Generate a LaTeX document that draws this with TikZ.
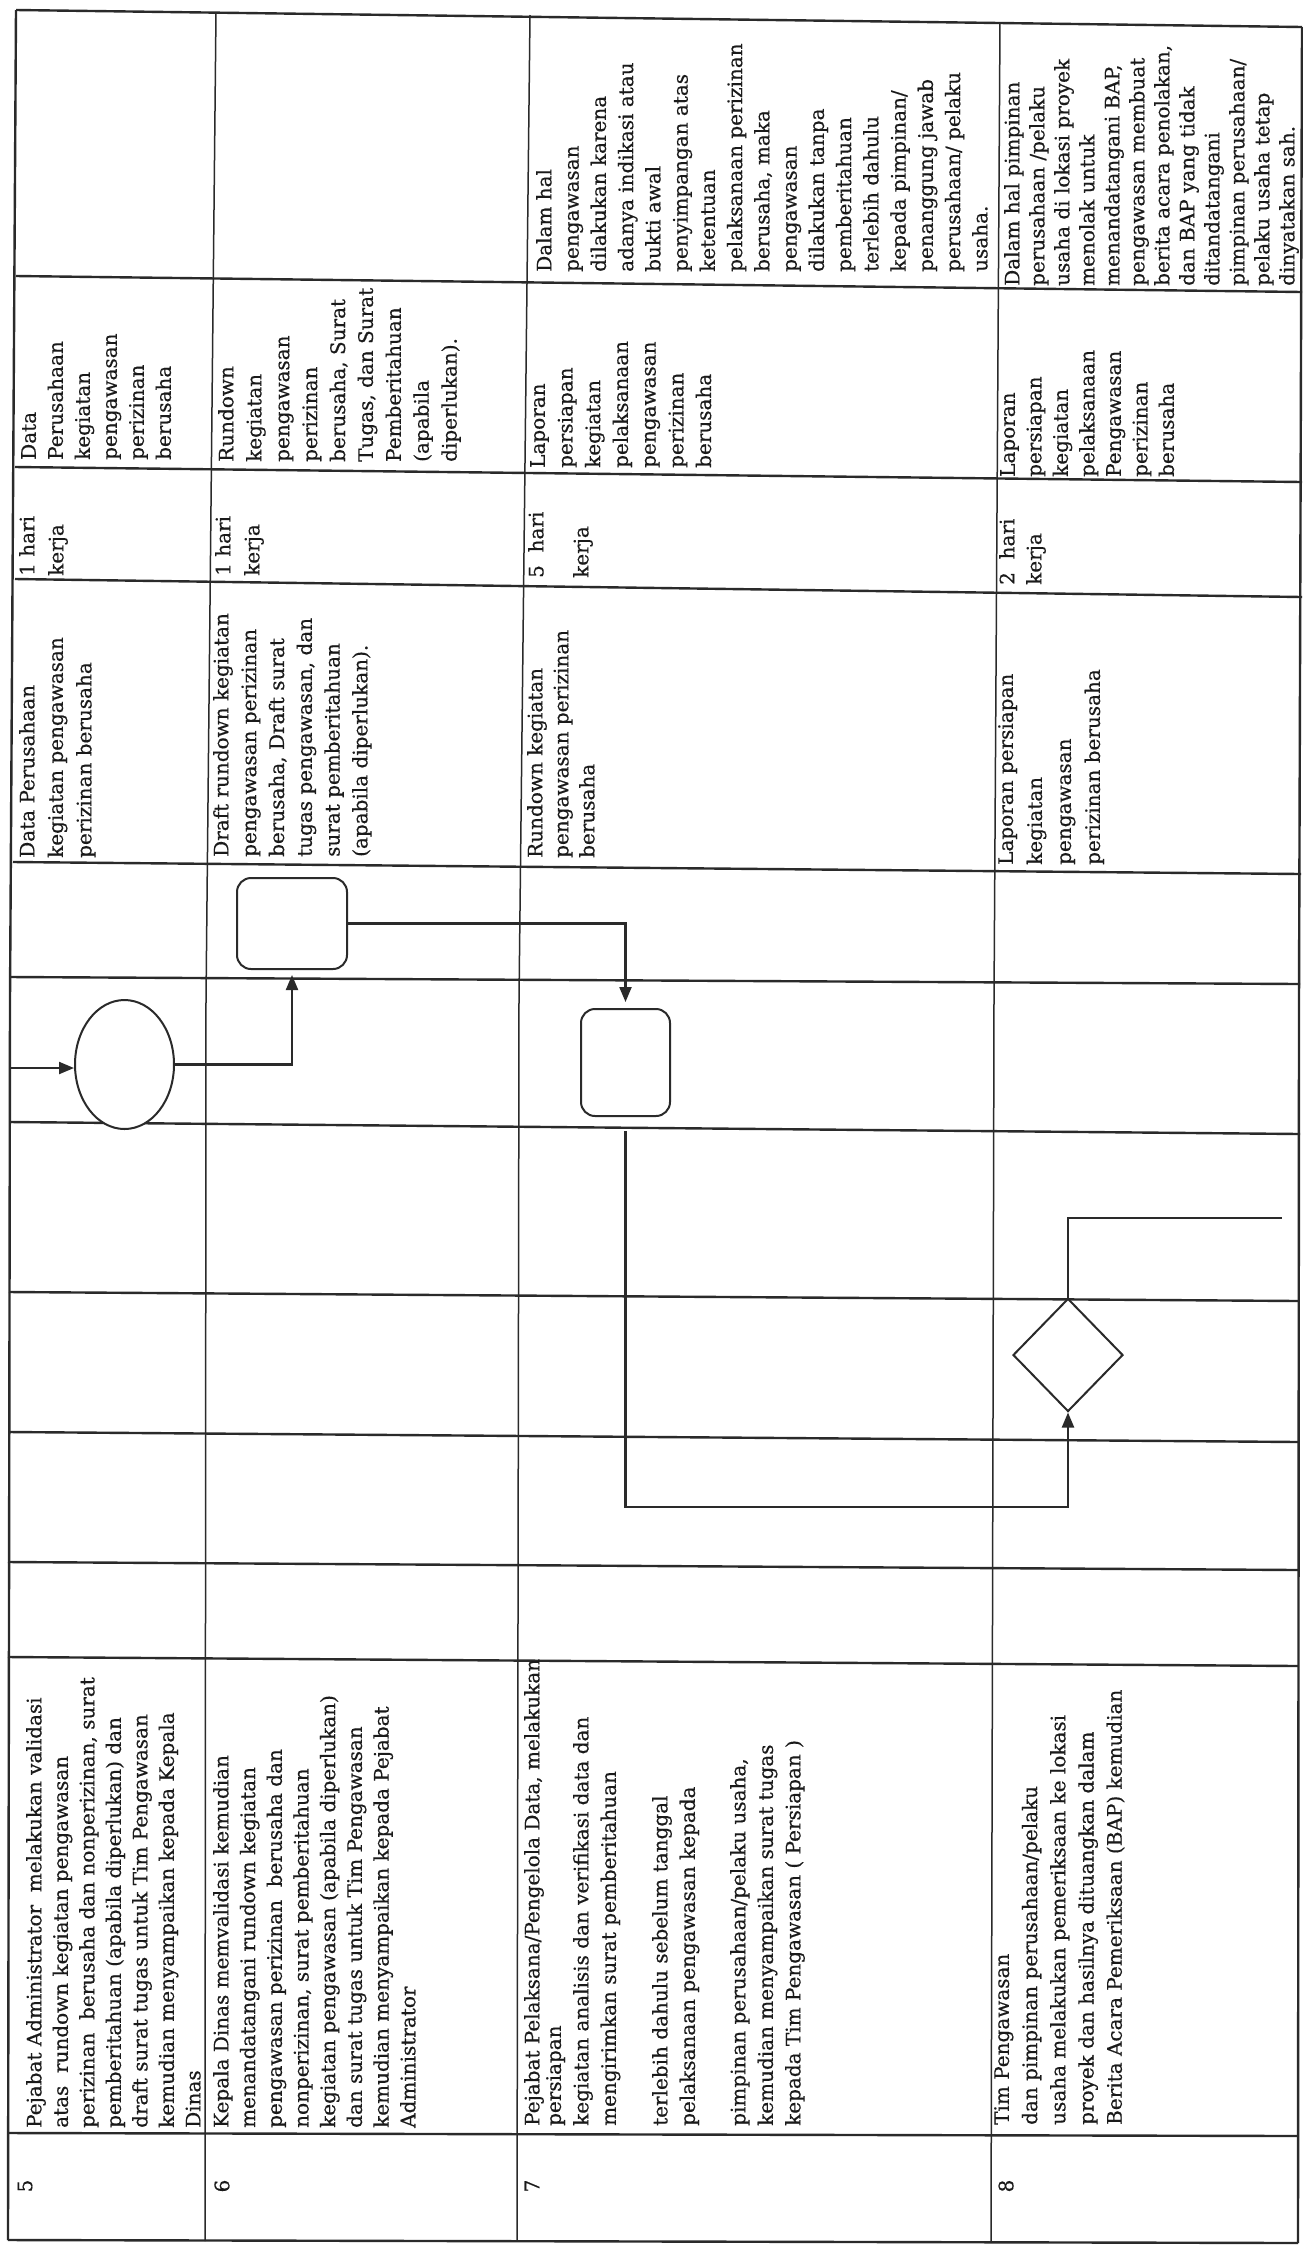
\documentclass[tikz,border=0pt]{standalone}
\usepackage{fontspec}
\setmainfont{DejaVu Serif}[FakeBold=0.5]
\usetikzlibrary{arrows.meta,shapes.geometric}
\definecolor{ink}{HTML}{1A1A1A}
\definecolor{rulec}{HTML}{2A2A2A}
\begin{document}
\begin{tikzpicture}[x=1pt,y=-1pt,
  hline/.style={draw=rulec,line width=2.4pt},
  vline/.style={draw=rulec,line width=1.5pt},
  txt/.style={rotate=90,anchor=north west,inner sep=0pt,align=left,text=ink,
    font={\fontsize{20pt}{#1pt}\selectfont}},
  num/.style={rotate=90,anchor=center,inner sep=0pt,text=ink,font={\fontsize{20pt}{24pt}\selectfont}},
  shp/.style={draw=rulec,line width=2pt,fill=white,inner sep=0pt},
  ell/.style={shp,ellipse,minimum width=99pt,minimum height=129pt},
  rbox/.style={shp,rectangle,rounded corners=14pt},
  dia/.style={shp,diamond,minimum width=110pt,minimum height=113pt},
  conn/.style={draw=rulec,line width=2.2pt},
  tip/.style={-{Triangle[length=15pt,width=12pt]}}
]
\useasboundingbox (0,0) rectangle (1303,2247);
\fill[white] (0,0) rectangle (1303,2247);

% horizontal rules
\draw[hline] (16,10) -- (1302,27);
\draw[hline] (16,276) -- (1302,292);
\draw[hline] (15,467) -- (1302,482);
\draw[hline] (15,579) -- (1302,597);
\draw[hline] (13,862) -- (1301,874);
\draw[hline] (10,977) -- (1300,984);
\draw[hline] (10,1122) -- (1300,1134);
\draw[hline] (9,1292) -- (1299,1301);
\draw[hline] (9,1432) -- (1299,1442);
\draw[hline] (8,1562) -- (1298,1570);
\draw[hline] (8,1657) -- (1298,1666);
\draw[hline] (8,2133) -- (1298,2136);
\draw[hline] (8,2240) -- (1298,2243);
% vertical rules
\draw[hline] (16,10) -- (10,1000) -- (8,2240);
\draw[vline] (216,12) -- (206,1000) -- (205,2241);
\draw[vline] (530,15) -- (519,1000) -- (517,2241);
\draw[vline] (1000,22) -- (994,1000) -- (991,2242);
\draw[hline] (1302,27) -- (1299,1000) -- (1298,2243);

% Keterangan
\node[txt=27.25] (k7) at (536,272) {Dalam hal\\pengawasan\\dilakukan karena\\adanya indikasi atau\\bukti awal\\penyimpangan atas\\ketentuan\\pelaksanaan perizinan\\berusaha, maka\\pengawasan\\dilakukan tanpa\\pemberitahuan\\terlebih dahulu\\kepada pimpinan/\\penanggung jawab\\perusahaan/ pelaku\\usaha.};
\node[txt=25] (k8) at (1004,286) {Dalam hal pimpinan\\perusahaan /pelaku\\usaha di lokasi proyek\\menolak untuk\\menandatangani BAP,\\pengawasan membuat\\berita acara penolakan,\\dan BAP yang tidak\\ditandatangani\\pimpinan perusahaan/\\pelaku usaha tetap\\dinyatakan sah.};

% Output
\node[txt=27] (o5) at (21,460) {Data\\Perusahaan\\kegiatan\\pengawasan\\perizinan\\berusaha};
\node[txt=27.9] (o6) at (218,462) {Rundown\\kegiatan\\pengawasan\\perizinan\\berusaha, Surat\\Tugas, dan Surat\\Pemberitahuan\\(apabila\\diperlukan).};
\node[txt=27.7] (o7) at (530,468) {Laporan\\persiapan\\kegiatan\\pelaksanaan\\pengawasan\\perizinan\\berusaha};
\node[txt=26.5] (o8) at (1000,477) {Laporan\\persiapan\\kegiatan\\pelaksanaan\\Pengawasan\\perizinan\\berusaha};

% Waktu
\node[txt=29] (w5) at (19,576) {1 hari\\kerja};
\node[txt=29] (w6) at (215,576) {1 hari\\kerja};
\node[txt=27] (w7) at (528,578) {5~ hari\\[18pt]kerja};
\node[txt=27] (w8) at (999,585) {2~ hari\\kerja};

% Kelengkapan
\node[txt=28.5] (l5) at (19,858) {Data Perusahaan\\kegiatan pengawasan\\perizinan berusaha};
\node[txt=27.8] (l6) at (213,857) {Draft rundown kegiatan\\pengawasan perizinan\\berusaha, Draft surat\\tugas pengawasan, dan\\surat pemberitahuan\\(apabila diperlukan).};
\node[txt=26] (l7) at (527,858) {Rundown kegiatan\\pengawasan perizinan\\berusaha};
\node[txt=29] (l8) at (998,865) {Laporan persiapan\\kegiatan\\pengawasan\\perizinan berusaha};

% Uraian
\node[txt=26.5] (u5) at (26,2128) {Pejabat Administrator~ melakukan validasi\\atas~ rundown kegiatan pengawasan\\perizinan~ berusaha dan nonperizinan, surat\\pemberitahuan (apabila diperlukan) dan\\draft surat tugas untuk Tim Pengawasan\\kemudian menyampaikan kepada Kepala\\Dinas};
\node[txt=26.7] (u6) at (213,2128) {Kepala Dinas memvalidasi kemudian\\menandatangani rundown kegiatan\\pengawasan perizinan~ berusaha dan\\nonperizinan, surat pemberitahuan\\kegiatan pengawasan (apabila diperlukan)\\dan surat tugas untuk Tim Pengawasan\\kemudian menyampaikan kepada Pejabat\\Administrator};
\node[txt=27.5] (u7) at (524,2126) {Pejabat Pelaksana/Pengelola Data, melakukan\\[-6pt]persiapan\\kegiatan analisis dan verifikasi data dan\\mengirimkan surat pemberitahuan\\[24pt]terlebih dahulu sebelum tanggal\\pelaksanaan pengawasan kepada\\[23pt]pimpinan perusahaan/pelaku usaha,\\kemudian menyampaikan surat tugas\\kepada Tim Pengawasan ( Persiapan )};
\node[txt=28.2] (u8) at (994,2125) {Tim Pengawasan\\dan pimpinan perusahaan/pelaku\\usaha melakukan pemeriksaan ke lokasi\\proyek dan hasilnya dituangkan dalam\\Berita Acara Pemeriksaan (BAP) kemudian};

% No
\node[num] (n5) at (25,2186) {5};
\node[num] (n6) at (222,2186) {6};
\node[num] (n7) at (532,2186) {7};
\node[num] (n8) at (1006,2186) {8};

% flow shapes
\node[ell] (e5) at (124.5,1064.5) {};
\node[rbox,minimum width=110pt,minimum height=91pt] (b6) at (292,923.5) {};
\node[rbox,minimum width=89pt,minimum height=107pt] (b7) at (625.5,1062.5) {};
\node[dia] (q8) at (1068,1355) {};

% connectors
\coordinate (inL) at (10,1068);
\coordinate (low) at (0,1507);
\coordinate (tail) at (1282,1218);
\draw[conn,tip] (inL) -- (inL -| e5.west);
\draw[conn,tip,shorten >=5pt] (e5.east) -| (b6.south);
\draw[conn,tip,shorten >=6pt] (b6.east) -| (b7.north);
\draw[conn,tip,shorten <=14pt] (b7.south) -- (b7.south |- low) -| (q8.south);
\draw[conn] (q8.north) |- (tail);
\end{tikzpicture}
\end{document}
